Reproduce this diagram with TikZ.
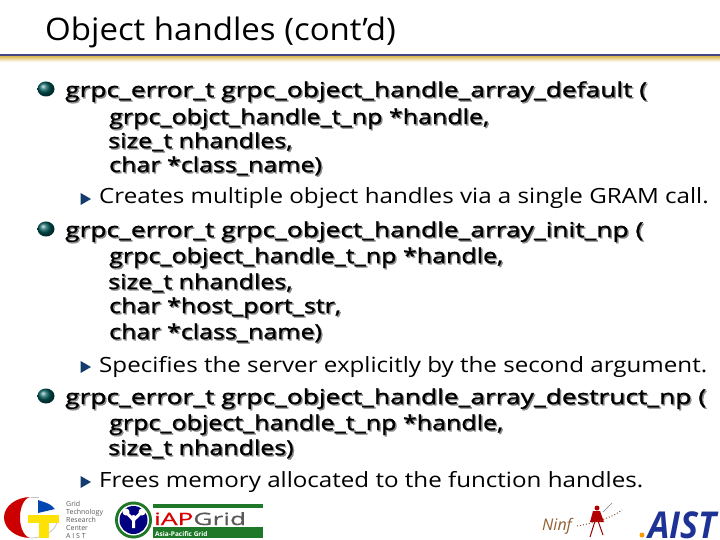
\documentclass[tikz,border=0pt]{standalone}
\usepackage{fontspec}
\setmainfont{Open Sans}
\newfontfamily\codefont[FakeBold=1.2,FakeStretch=1.285]{Open Sans}
\newfontfamily\codenarrow[FakeBold=1.2,FakeStretch=1.22]{Open Sans}
\newfontfamily\bodyfont[FakeStretch=1.15]{Open Sans}
\newfontfamily\titlefont[FakeStretch=1.065]{Open Sans}
\newfontfamily\aistfont[FakeStretch=0.92]{Open Sans}
\newfontfamily\apfont[FakeStretch=1.55,FakeBold=0.8]{Open Sans}
\usetikzlibrary{shapes.geometric}
\definecolor{rulea}{RGB}{70,70,130}
\definecolor{ruleb}{RGB}{225,195,110}
\definecolor{tri}{RGB}{20,60,110}
\definecolor{apgreen}{RGB}{30,120,40}
\definecolor{aistblue}{RGB}{30,50,150}
\newcommand{\shadowed}[4]{%
  \node[codetxt,text=black!45] at (#2+1.4,#3-1.4) {#4};
  \node[codetxt] (#1) at (#2,#3) {#4};}
\newcommand{\shadowedin}[4]{%
  \node[codein,text=black!45] at (#2+1.4,#3-1.4) {#4};
  \node[codein] (#1) at (#2,#3) {#4};}
\tikzset{
  x=1pt,y=1pt,
  codetxt/.style={anchor=base west,inner sep=0pt,font=\fontsize{20.5}{24}\codefont},
  codein/.style={anchor=base west,inner sep=0pt,font=\fontsize{20.5}{24}\codenarrow},
  bodytxt/.style={anchor=base west,inner sep=0pt,font=\fontsize{21}{24}\bodyfont},
  tip/.style={fill=tri,draw=none,regular polygon,regular polygon sides=3,shape border rotate=-90,inner sep=0pt,minimum size=14pt},
  ball/.style={ellipse,inner sep=0pt,minimum width=17pt,minimum height=15pt,shading=ball,ball color=teal!70!black}
}
\begin{document}
\begin{tikzpicture}
\useasboundingbox (0,0) rectangle (720,-540);
\fill[white] (0,0) rectangle (720,-540);
% title
\node[anchor=base west,inner sep=0pt,font=\fontsize{31}{36}\titlefont] (title) at (45,-41) {Object handles (cont’d)};
\fill[rulea] (0,-54) rectangle (720,-57);
\shade[top color=ruleb,bottom color=white] (0,-57) rectangle (720,-62);
% bullets
\node[ball] (b1) at (46,-89) {};
\node[ball] (b2) at (46,-229) {};
\node[ball] (b3) at (46,-396) {};
% code
\shadowed{a1}{65}{-97}{grpc\_error\_t grpc\_object\_handle\_array\_default (}
\shadowedin{a2}{109}{-124}{grpc\_objct\_handle\_t\_np *handle,}
\shadowedin{a3}{108}{-148}{size\_t nhandles,}
\shadowedin{a4}{109}{-172}{char *class\_name)}
\shadowed{c1}{65}{-237}{grpc\_error\_t grpc\_object\_handle\_array\_init\_np (}
\shadowedin{c2}{109}{-263}{grpc\_object\_handle\_t\_np *handle,}
\shadowedin{c3}{108}{-289}{size\_t nhandles,}
\shadowedin{c4}{109}{-313}{char *host\_port\_str,}
\shadowedin{c5}{109}{-339}{char *class\_name)}
\shadowed{e1}{65}{-404}{grpc\_error\_t grpc\_object\_handle\_array\_destruct\_np (}
\shadowedin{e2}{109}{-430}{grpc\_object\_handle\_t\_np *handle,}
\shadowedin{e3}{108}{-455}{size\_t nhandles)}
% sub bullets
\node[tip] (t1) at (84,-199) {};
\node[tip] (t2) at (84,-367) {};
\node[tip] (t3) at (84,-482) {};
\node[bodytxt] (s1) at (99,-204) {Creates multiple object handles via a single GRAM call.};
\node[bodytxt] (s2) at (99,-372) {Specifies the server explicitly by the second argument.};
\node[bodytxt] (s3) at (99,-487) {Frees memory allocated to the function handles.};
% GTRC logo
\fill[red!80!black] (31,-497) arc (90:270:27 and 20.5) arc (270:90:11 and 20.5);
\draw[gray!45,line width=.8pt] (31,-497) -- (39,-497);
\draw[gray!45,line width=.8pt] (31,-538) arc (-90:-15:27 and 20.5);
\fill[blue!60!cyan!70!black] (38,-500) -- (38,-513) -- (55,-509) .. controls (50,-504) .. (38,-500);
\fill[yellow!85!orange] (28,-515) rectangle (59,-523);
\fill[yellow!85!orange] (39,-523) rectangle (49,-538);
\node[anchor=west,inner sep=0pt,align=left,text=gray!70!black,font=\fontsize{7}{8}\selectfont] (gtrc) at (66,-520) {Grid\\Technology\\Research\\Center\\A I S T};
% ApGrid logo
\fill[apgreen] (133.5,-520) circle (18.5);
\fill[white] (133.5,-520) circle (15.5);
\fill[blue!50!black] (133.5,-520) circle (14);
\draw[white,line width=3pt] (126,-512) -- (133.5,-520) -- (142,-512) (133.5,-520) -- (133.5,-528);
\fill[white] (126,-512) circle (3.5) (142,-512) circle (3.5) (133.5,-518) circle (3);
\fill[apgreen] (153,-504) rectangle (263,-508);
\fill[apgreen] (153,-527) rectangle (263,-538);
\node[anchor=base west,inner sep=0pt,text=white,font=\fontsize{6.5}{8}\bfseries\selectfont] (apsub) at (155,-536) {Asia-Pacific Grid};
\node[anchor=base west,inner sep=0pt,font=\fontsize{17}{18}\apfont] (aplogo) at (154,-525) {\textcolor{red!85!black}{iAP}\textcolor{gray!70!black}{Grid}};
% Ninf logo
\node[anchor=base west,inner sep=0pt,text=brown!75!black,font=\fontsize{16}{18}\itshape\selectfont] (ninf) at (542,-530) {Ninf};
\draw[red!60!black,line width=1pt] (596,-518) -- (590,-537) (597,-518) -- (603,-535);
\fill[red!70!black] (593,-511) -- (600,-511) -- (604,-522) -- (590,-522) -- cycle;
\fill[red!70!black] (597,-508) circle (2.5);
\draw[gray,line width=.6pt] (603,-512) -- (612,-503);
\draw[brown!70!black,dotted,line width=1pt] (577,-526) .. controls (590,-524) and (612,-518) .. (622,-510);
% AIST logo
\fill[orange!80!yellow] (642,-535) circle (2.5);
\node[anchor=base west,inner sep=0pt,text=aistblue,font=\fontsize{37}{38}\aistfont\bfseries\itshape] (aist) at (648,-538) {AIST};
\end{tikzpicture}
\end{document}
